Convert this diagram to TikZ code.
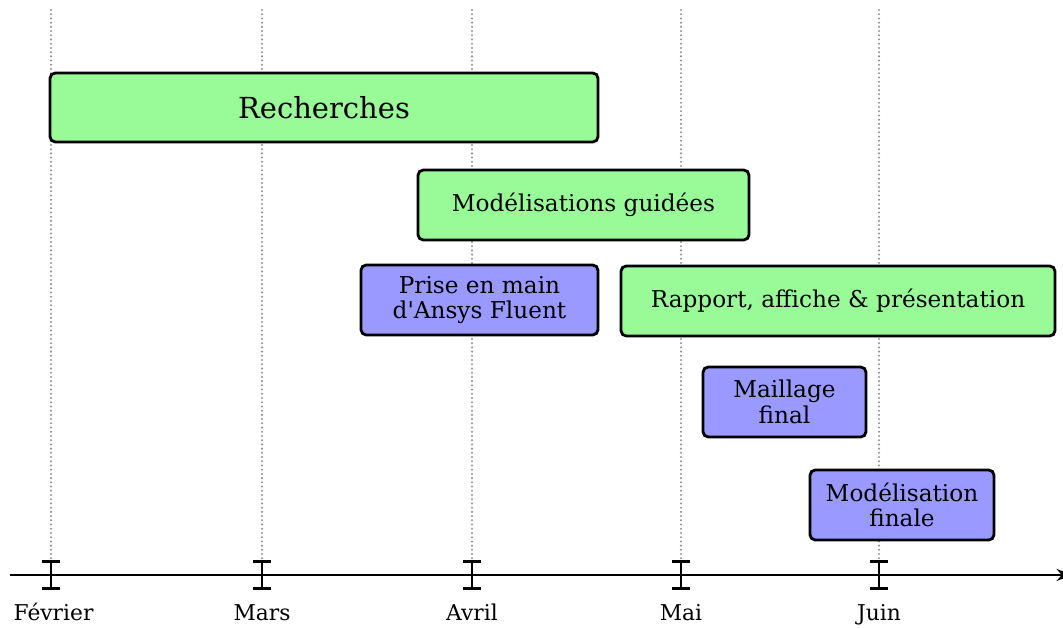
\documentclass[tikz,border=0pt]{standalone}
\usepackage{fontspec}
\setmainfont{DejaVu Serif}
\usepackage{xcolor}
\usepackage{tikz}
\usetikzlibrary{arrows.meta,positioning,calc}

\definecolor{taskgreen}{HTML}{98FB98}
\definecolor{taskblue}{HTML}{9999FF}

\begin{document}
\begin{tikzpicture}[
    task/.style={draw=black, line width=1.6pt, rounded corners=3pt, align=center,
        inner sep=0pt, minimum height=1.4cm, font=\fontsize{13.2}{14.5}\selectfont},
    greentask/.style={task, fill=taskgreen},
    bluetask/.style={task, fill=taskblue},
    monthline/.style={gray!85, line cap=round, dash pattern=on 0pt off 2.4pt, line width=1.3pt},
    monthtick/.style={{Bar[width=10pt]}-{Bar[width=10pt]}, line width=1.6pt},
    monthlabel/.style={anchor=base, font=\fontsize{12.4}{14}\selectfont}
]
\useasboundingbox (0,0) rectangle (21.26,12.56);

% Months on the time axis
\coordinate (fev) at (1.02, 1.06);
\coordinate (mar) at (5.24, 1.06);
\coordinate (avr) at (9.44, 1.06);
\coordinate (mai) at (13.62, 1.06);
\coordinate (jun) at (17.58, 1.06);
\coordinate (fevtop) at (1.02, 12.36);
\coordinate (martop) at (5.24, 12.36);
\coordinate (avrtop) at (9.44, 12.36);
\coordinate (maitop) at (13.62, 12.36);
\coordinate (juntop) at (17.58, 12.36);

% Dotted guides
\draw[monthline] (fevtop) -- (fev);
\draw[monthline] (martop) -- (mar);
\draw[monthline] (avrtop) -- (avr);
\draw[monthline] (maitop) -- (mai);
\draw[monthline] (juntop) -- (jun);

% Time axis
\coordinate (axstart) at (0.2, 1.06);
\coordinate (axend) at (21.45, 1.06);
\draw[-{Stealth[length=9pt]}, line width=1.6pt] (axstart) -- (axend);

% Ticks
\draw[monthtick] ($(fev)+(0,0.3)$) -- ($(fev)-(0,0.3)$);
\draw[monthtick] ($(mar)+(0,0.3)$) -- ($(mar)-(0,0.3)$);
\draw[monthtick] ($(avr)+(0,0.3)$) -- ($(avr)-(0,0.3)$);
\draw[monthtick] ($(mai)+(0,0.3)$) -- ($(mai)-(0,0.3)$);
\draw[monthtick] ($(jun)+(0,0.3)$) -- ($(jun)-(0,0.3)$);

% Month labels
\node[monthlabel] (fevlabel) at (1.07, 0.14) {Février};
\node[monthlabel] (marlabel) at (5.24, 0.14) {Mars};
\node[monthlabel] (avrlabel) at (9.44, 0.14) {Avril};
\node[monthlabel] (mailabel) at (13.62, 0.14) {Mai};
\node[monthlabel] (junlabel) at (17.58, 0.14) {Juin};

% Tasks
\node[greentask, minimum width=10.96cm, minimum height=1.38cm,
    font=\fontsize{16.5}{19}\selectfont] (rech) at (6.48, 10.41) {Recherches};
\node[greentask, minimum width=6.62cm] (modguid) at (11.67, 8.46) {Modélisations guidées};
\node[bluetask, minimum width=4.74cm] (prise) at (9.59, 6.56) {Prise en main\\d\textquotesingle Ansys Fluent};
\node[greentask, minimum width=8.68cm] (rapport) at (16.76, 6.54) {Rapport, affiche \& présentation};
\node[bluetask, minimum width=3.26cm] (maillage) at (15.69, 4.52) {Maillage\\final};
\node[bluetask, minimum width=3.68cm] (modfin) at (18.04, 2.46) {Modélisation\\finale};

\end{tikzpicture}
\end{document}
